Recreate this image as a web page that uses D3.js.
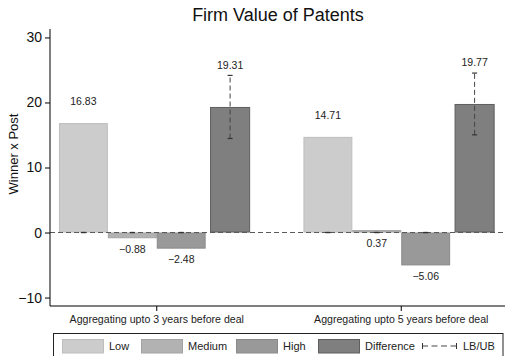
<!DOCTYPE html>
<html>
<head>
<meta charset="utf-8">
<script src="https://cdn.jsdelivr.net/npm/d3@7"></script>
<style>
  html, body { margin: 0; padding: 0; background: #fff; }
  svg { display: block; font-family: "Liberation Sans", Arial, Helvetica, sans-serif; }
</style>
</head>
<body>
<svg id="chart" width="505" height="356"></svg>
<script>
// Data
const groups = ["Aggregating upto 3 years before deal", "Aggregating upto 5 years before deal"];
const series = ["Low", "Medium", "High", "Difference"];
const lowValues = [16.83, 14.71];
const mediumValues = [-0.88, 0.37];
const highValues = [-2.48, -5.06];
const differenceValues = [19.31, 19.77];
const differenceLB = [14.46, 15.02];
const differenceUB = [24.16, 24.52];
const yTicks = [-10, 0, 10, 20, 30];

const seriesValues = { Low: lowValues, Medium: mediumValues, High: highValues, Difference: differenceValues };
const seriesLB = { Low: [0, 0], Medium: [0, 0], High: [0, 0], Difference: differenceLB };
const seriesUB = { Low: [0, 0], Medium: [0, 0], High: [0, 0], Difference: differenceUB };

// Styles
const fills = { Low: "#cccccc", Medium: "#b2b2b2", High: "#999999", Difference: "#7f7f7f" };
const strokes = { Low: "#bdbdbd", Medium: "#a3a3a3", High: "#8a8a8a", Difference: "#5e5e5e" };
const labelSide = { Low: "above", Medium: "below", High: "below", Difference: "ci" };

const svg = d3.select("#chart");
const plotLeft = 50, plotRight = 508, plotTop = 29, plotBottom = 306;

const x = d3.scaleBand().domain(groups).range([plotLeft, plotRight]).paddingInner(0.2).paddingOuter(0.0366);
const inner = d3.scaleBand().domain(series).range([0, x.bandwidth()]).padding(0);
const y = d3.scaleLinear().domain([-11.3, 31.3]).range([plotBottom, plotTop]);

// Title
svg.append("text").attr("x", 278).attr("y", 21).attr("text-anchor", "middle")
  .attr("font-size", 18).attr("fill", "#111").text("Firm Value of Patents");

// Rows of bar records
const rows = [];
groups.forEach((g, gi) => {
  series.forEach(s => {
    rows.push({ group: g, series: s, value: seriesValues[s][gi], lb: seriesLB[s][gi], ub: seriesUB[s][gi] });
  });
});

const plot = svg.append("g");

function barWidth(s) { return s === "Difference" ? inner.bandwidth() * 0.82 : inner.bandwidth(); }
function barX(d) { return x(d.group) + inner(d.series) + (inner.bandwidth() - barWidth(d.series)) / 2; }
function centerX(d) { return x(d.group) + inner(d.series) + inner.bandwidth() / 2; }

plot.selectAll("rect.bar").data(rows).join("rect")
  .attr("class", "bar")
  .attr("x", d => barX(d) + 0.5)
  .attr("width", d => barWidth(d.series) - 1)
  .attr("y", d => y(Math.max(0, d.value)) + 0.5)
  .attr("height", d => Math.max(0.5, Math.abs(y(d.value) - y(0)) - 1))
  .attr("fill", d => fills[d.series])
  .attr("stroke", d => strokes[d.series])
  .attr("stroke-width", 1);

// Zero reference line
plot.append("line")
  .attr("x1", plotLeft).attr("x2", 505)
  .attr("y1", y(0)).attr("y2", y(0))
  .attr("stroke", "#5a5a5a").attr("stroke-width", 1.2)
  .attr("stroke-dasharray", "5,3");

// Confidence intervals
const ci = plot.selectAll("g.ci").data(rows).join("g").attr("class", "ci");
ci.append("line")
  .attr("x1", centerX).attr("x2", centerX)
  .attr("y1", d => y(d.lb)).attr("y2", d => y(d.ub))
  .attr("stroke", "#444").attr("stroke-width", 1)
  .attr("stroke-dasharray", "5,3");
ci.append("line")
  .attr("x1", d => centerX(d) - 2.5).attr("x2", d => centerX(d) + 2.5)
  .attr("y1", d => y(d.lb)).attr("y2", d => y(d.lb))
  .attr("stroke", "#333").attr("stroke-width", 1.2);
ci.append("line")
  .attr("x1", d => centerX(d) - 2.5).attr("x2", d => centerX(d) + 2.5)
  .attr("y1", d => y(d.ub)).attr("y2", d => y(d.ub))
  .attr("stroke", "#333").attr("stroke-width", 1.2);

// Value labels
const fmt = v => (v < 0 ? "\u2212" : "") + Math.abs(v).toFixed(2);
plot.selectAll("text.val").data(rows).join("text")
  .attr("class", "val")
  .attr("x", centerX)
  .attr("y", d => {
    const side = labelSide[d.series];
    if (side === "above") return y(d.value) - 21.5;
    if (side === "ci") return y(d.ub) - 10.5;
    return y(Math.min(0, d.value)) + 11;
  })
  .attr("dy", "0.35em")
  .attr("text-anchor", "middle")
  .attr("font-size", 10.5)
  .attr("fill", "#222")
  .text(d => fmt(d.value));

// Axes
const yAxis = d3.axisLeft(y).tickValues(yTicks).tickSize(5).tickPadding(3)
  .tickFormat(v => (v < 0 ? "\u2212" : "") + Math.abs(v));
const gy = svg.append("g").attr("transform", `translate(${plotLeft},0)`).call(yAxis);
gy.select(".domain").attr("d", `M0,${plotTop}V${plotBottom}`).attr("stroke", "#000");
gy.selectAll(".tick line").attr("stroke", "#000");
gy.selectAll(".tick text").attr("font-size", 14).attr("fill", "#111").attr("font-family", null);

const xAxis = d3.axisBottom(x).tickSize(5).tickPadding(4);
const gx = svg.append("g").attr("transform", `translate(0,${plotBottom})`).call(xAxis);
gx.select(".domain").attr("d", `M${plotLeft},0H505`).attr("stroke", "#000");
gx.selectAll(".tick line").attr("stroke", "#000");
gx.selectAll(".tick text").attr("font-size", 10.6).attr("fill", "#222").attr("font-family", null);

// Y axis title
svg.append("text")
  .attr("transform", "translate(18,154) rotate(-90)")
  .attr("text-anchor", "middle")
  .attr("font-size", 13).attr("fill", "#111")
  .text("Winner x Post");

// Legend
const legend = svg.append("g");
legend.append("rect").attr("x", 53.5).attr("y", 333.5).attr("width", 449.5).attr("height", 30)
  .attr("fill", "#fff").attr("stroke", "#222").attr("stroke-width", 1);
const legendX = { Low: 62, Medium: 141, High: 236, Difference: 318 };
series.forEach(s => {
  legend.append("rect").attr("x", legendX[s] + 0.5).attr("y", 339.5).attr("width", 41).attr("height", 13.5)
    .attr("fill", fills[s]).attr("stroke", strokes[s]);
  legend.append("text").attr("x", legendX[s] + 47).attr("y", 346).attr("dy", "0.35em")
    .attr("font-size", 11).attr("fill", "#222").text(s);
});
// LB/UB key
const ky = 346;
legend.append("line").attr("x1", 422).attr("x2", 457).attr("y1", ky).attr("y2", ky)
  .attr("stroke", "#444").attr("stroke-dasharray", "6,3.5");
legend.append("line").attr("x1", 422.5).attr("x2", 422.5).attr("y1", ky - 3).attr("y2", ky + 3).attr("stroke", "#333");
legend.append("line").attr("x1", 456.5).attr("x2", 456.5).attr("y1", ky - 3).attr("y2", ky + 3).attr("stroke", "#333");
legend.append("text").attr("x", 463).attr("y", ky).attr("dy", "0.35em")
  .attr("font-size", 11).attr("fill", "#222").text("LB/UB");
</script>
</body>
</html>
